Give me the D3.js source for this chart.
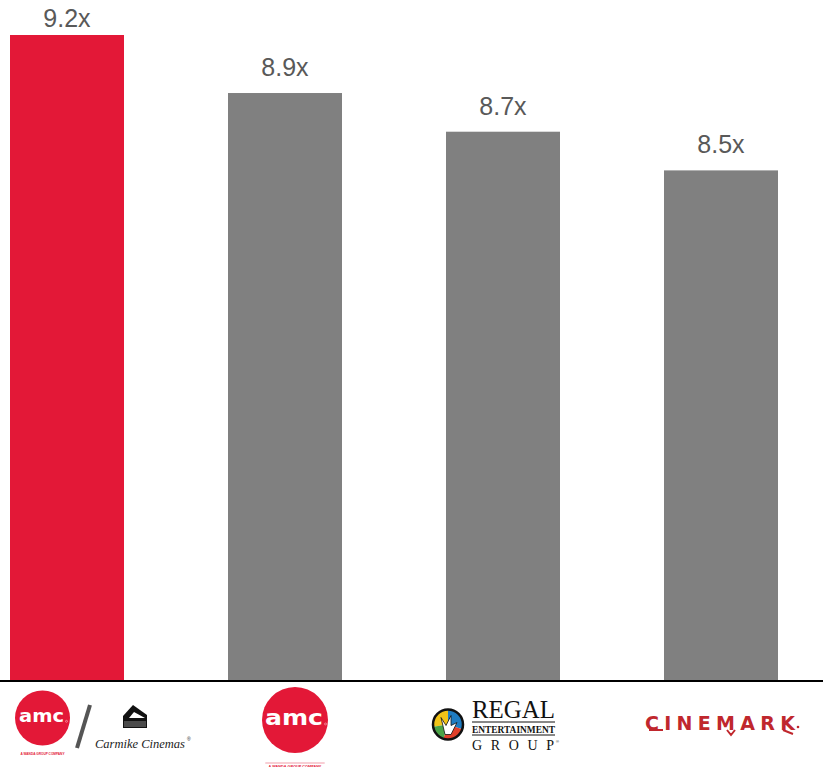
<!DOCTYPE html>
<html>
<head>
<meta charset="utf-8">
<script src="https://cdn.jsdelivr.net/npm/d3@7"></script>
<style>
  html, body { margin: 0; padding: 0; background: #ffffff; }
  svg { display: block; }
</style>
</head>
<body>
<svg id="chart" width="823" height="767"></svg>
<script>
// ---- data ----
const categories = ["AMC / Carmike", "AMC", "Regal", "Cinemark"];
const values = [9.2, 8.9, 8.7, 8.5];
const valueLabels = ["9.2x", "8.9x", "8.7x", "8.5x"];
const barColors = ["#E31837", "#808080", "#808080", "#808080"];

const W = 823, H = 767;
const baseY = 681;
const svg = d3.select("#chart");

const x = d3.scaleBand().domain(categories).range([10, 778])
  .paddingInner(104 / 218).paddingOuter(0);
const y = d3.scaleLinear().domain([5.86, 9.2]).range([baseY, 35]);

const data = categories.map((c, i) => ({ c, v: values[i], label: valueLabels[i], color: barColors[i] }));

// bars
svg.selectAll("rect.bar").data(data).join("rect")
  .attr("class", "bar")
  .attr("x", d => x(d.c))
  .attr("width", x.bandwidth())
  .attr("y", d => y(d.v))
  .attr("height", d => baseY - y(d.v))
  .attr("fill", d => d.color);

// value labels
svg.selectAll("text.val").data(data).join("text")
  .attr("class", "val")
  .attr("x", d => x(d.c) + x.bandwidth() / 2)
  .attr("y", d => Math.max(27, y(d.v) - 17))
  .attr("text-anchor", "middle")
  .attr("font-family", "Liberation Sans, Arial, sans-serif")
  .attr("font-size", 25)
  .attr("fill", "#595959")
  .text(d => d.label);

// baseline axis
const xAxis = d3.axisBottom(x).tickSize(0).tickFormat("");
const ax = svg.append("g").attr("transform", `translate(0,${baseY})`).call(xAxis);
ax.select(".domain").remove();
svg.append("line").attr("x1", 0).attr("x2", W).attr("y1", baseY).attr("y2", baseY)
  .attr("stroke", "#000").attr("stroke-width", 2);

// ---- logos ----
const RED = "#E31837";
function amcLogo(g, cx, cy, r, textW, lineBelow) {
  g.append("circle").attr("cx", cx).attr("cy", cy).attr("r", r).attr("fill", RED);
  g.append("text").attr("x", cx - textW / 2 - 1).attr("y", cy + r * 0.16)
    .attr("font-family", "DejaVu Sans, sans-serif").attr("font-weight", "bold")
    .attr("font-size", r * 0.62).attr("fill", "#fff")
    .attr("textLength", textW).attr("lengthAdjust", "spacingAndGlyphs")
    .text("amc");
  g.append("circle").attr("cx", cx + textW / 2 + 1.5).attr("cy", cy + r * 0.12).attr("r", 1)
    .attr("fill", "none").attr("stroke", "#fff").attr("stroke-width", 0.4);
  const ty = cy + r + (lineBelow ? 13 : 8);
  if (lineBelow) {
    g.append("line").attr("x1", cx - r * 0.9).attr("x2", cx + r * 0.9)
      .attr("y1", ty - 3).attr("y2", ty - 3).attr("stroke", RED).attr("stroke-width", 0.6).attr("opacity", 0.7);
  }
  g.append("text").attr("x", cx).attr("y", ty + 1.5).attr("text-anchor", "middle")
    .attr("font-family", "Liberation Sans, Arial, sans-serif").attr("font-size", 3.2)
    .attr("fill", RED).attr("font-weight", "bold")
    .attr("textLength", r * 1.6).attr("lengthAdjust", "spacingAndGlyphs")
    .text("A WANDA GROUP COMPANY");
}

const logos = svg.append("g").attr("class", "logos");

// logo 1: AMC / Carmike
const c0 = x(categories[0]) + x.bandwidth() / 2;
const g1 = logos.append("g");
amcLogo(g1, c0 - 24.5, 718, 27.5, 45, false);
g1.append("line").attr("x1", c0 + 23).attr("y1", 705).attr("x2", c0 + 10).attr("y2", 748)
  .attr("stroke", "#555").attr("stroke-width", 4);
// Carmike icon
const ix = c0 + 68, iy = 716;
g1.append("path")
  .attr("d", `M${ix - 2},${iy - 11} L${ix + 12},${iy - 1} L${ix + 12},${iy + 12} L${ix - 12},${iy + 12} L${ix - 12},${iy} Z`)
  .attr("fill", "#111");
g1.append("path")
  .attr("d", `M${ix - 1},${iy - 4} L${ix + 10},${iy + 2} L${ix - 6},${iy + 2} Z`)
  .attr("fill", "#fff");
[6, 8, 10].forEach(dy => {
  g1.append("line").attr("x1", ix - 11).attr("x2", ix + 11).attr("y1", iy + dy).attr("y2", iy + dy)
    .attr("stroke", "#fff").attr("stroke-width", 0.5);
});
g1.append("text").attr("x", c0 + 28).attr("y", 748)
  .attr("font-family", "'Liberation Serif', 'DejaVu Serif', serif").attr("font-style", "italic")
  .attr("font-size", 12.5).attr("fill", "#222")
  .text("Carmike Cinemas");
g1.append("text").attr("x", c0 + 120).attr("y", 741)
  .attr("font-family", "Liberation Sans, sans-serif").attr("font-size", 5).attr("fill", "#222").text("®");

// logo 2: AMC
const c1 = x(categories[1]) + x.bandwidth() / 2;
const g2 = logos.append("g");
amcLogo(g2, c1 + 10, 720, 33, 58, true);

// logo 3: Regal
const c2 = x(categories[2]) + x.bandwidth() / 2;
const g3 = logos.append("g");
const rcx = c2 - 55, rcy = 724.5, rr = 15;
const quad = [
  { a0: -Math.PI * 0.55, a1: Math.PI * 0.0, col: "#F2C417" },
  { a0: 0, a1: Math.PI * 0.6, col: "#1F7CC1" },
  { a0: Math.PI * 0.6, a1: Math.PI * 1.1, col: "#E0402A" },
  { a0: Math.PI * 1.1, a1: Math.PI * 1.45, col: "#4BA447" }
];
const arc = d3.arc().innerRadius(0).outerRadius(rr);
quad.forEach(q => {
  g3.append("path").attr("transform", `translate(${rcx},${rcy})`)
    .attr("d", arc({ startAngle: q.a0, endAngle: q.a1 })).attr("fill", q.col);
});
g3.append("circle").attr("cx", rcx).attr("cy", rcy).attr("r", rr).attr("fill", "none")
  .attr("stroke", "#111").attr("stroke-width", 2.5);
g3.append("path")
  .attr("d", `M${rcx - 7},${rcy - 7} L${rcx - 2},${rcy + 1} L${rcx + 3},${rcy - 9} L${rcx + 3},${rcy + 1} L${rcx + 9},${rcy - 2} L${rcx + 3},${rcy + 10} L${rcx - 3},${rcy + 10} Z`)
  .attr("fill", "#fff").attr("stroke", "#111").attr("stroke-width", 0.8);
const rx0 = c2 - 31;
g3.append("text").attr("x", rx0).attr("y", 718)
  .attr("font-family", "Liberation Serif, serif").attr("font-size", 25).attr("fill", "#111")
  .attr("textLength", 83).attr("lengthAdjust", "spacingAndGlyphs").text("REGAL");
[722, 735].forEach(ly => {
  g3.append("line").attr("x1", rx0).attr("x2", rx0 + 83).attr("y1", ly).attr("y2", ly)
    .attr("stroke", "#111").attr("stroke-width", 1);
});
g3.append("text").attr("x", rx0).attr("y", 732.5)
  .attr("font-family", "Liberation Serif, serif").attr("font-weight", "bold").attr("font-size", 10.5).attr("fill", "#111")
  .attr("textLength", 83).attr("lengthAdjust", "spacingAndGlyphs").text("ENTERTAINMENT");
g3.append("text").attr("x", rx0).attr("y", 750)
  .attr("font-family", "Liberation Serif, serif").attr("font-size", 14).attr("fill", "#111")
  .attr("textLength", 82).attr("lengthAdjust", "spacing").text("GROUP");
g3.append("text").attr("x", rx0 + 84).attr("y", 743)
  .attr("font-family", "Liberation Sans, sans-serif").attr("font-size", 4).attr("fill", "#111").text("®");

// logo 4: Cinemark
const c3 = x(categories[3]) + x.bandwidth() / 2;
const g4 = logos.append("g");
const CRED = "#C0272D";
g4.append("text").attr("x", c3 - 76).attr("y", 730)
  .attr("font-family", "DejaVu Sans, sans-serif").attr("font-weight", "bold").attr("font-size", 19)
  .attr("fill", CRED).attr("textLength", 150).attr("lengthAdjust", "spacing").text("CINEMARK");
g4.append("path")
  .attr("d", `M${c3 - 72},${730} L${c3 - 58},${730} M${c3 + 6},${730} L${c3 + 10},${735} L${c3 + 14},${730} M${c3 + 62},${730} L${c3 + 72},${734}`)
  .attr("fill", "none").attr("stroke", CRED).attr("stroke-width", 2);
g4.append("circle").attr("cx", c3 + 77).attr("cy", 727).attr("r", 1.3).attr("fill", CRED);
</script>
</body>
</html>
